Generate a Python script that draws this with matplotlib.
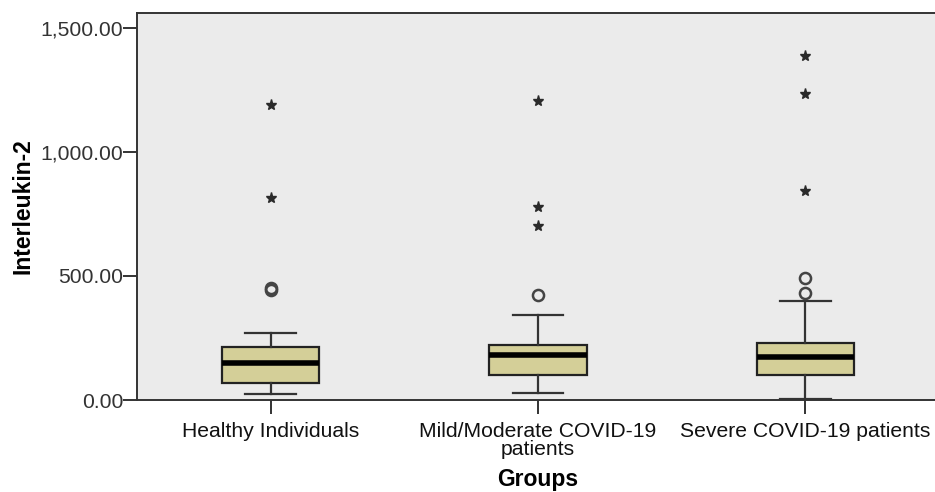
import matplotlib
matplotlib.use("Agg")
import matplotlib.pyplot as plt

plt.rcParams['font.family'] = ['Liberation Sans', 'DejaVu Sans']

groups = ["Healthy Individuals", "Mild/Moderate COVID-19\npatients", "Severe COVID-19 patients"]
q1 = [70, 101, 101]
median = [150, 181, 175]
q3 = [215, 222, 231]
whislo = [23, 29, 3]
whishi = [271, 343, 400]
outliers = [[445, 452], [423], [430, 491]]
extremes = [[816, 1190], [703, 780, 1207], [843, 1233, 1387]]

yticks = [0, 500, 1000, 1500]
ytick_labels = ["0.00", "500.00", "1,000.00", "1,500.00"]

fig = plt.figure(figsize=(9.35, 4.92), dpi=100)
ax = fig.add_axes([137/935, 92/492, 802/935, 387/492])
ax.set_facecolor("#EBEBEB")

stats = []
for i, g in enumerate(groups):
    stats.append(dict(label=g, q1=q1[i], med=median[i], q3=q3[i],
                      whislo=whislo[i], whishi=whishi[i], fliers=[]))

positions = [1, 2, 3]
ax.bxp(stats, positions=positions, widths=0.365, patch_artist=True,
       showfliers=False,
       boxprops=dict(facecolor="#D4CF98", edgecolor="#222222", linewidth=1.6),
       medianprops=dict(color="black", linewidth=4, solid_capstyle='butt'),
       whiskerprops=dict(color="#333333", linewidth=1.6),
       capprops=dict(color="#333333", linewidth=1.6),
       capwidths=0.19)

for p, vals in zip(positions, outliers):
    ax.plot([p]*len(vals), vals, linestyle='none', marker='o', markersize=8,
            markerfacecolor='none', markeredgecolor='#444444', markeredgewidth=1.8, zorder=5)
for p, vals in zip(positions, extremes):
    ax.plot([p]*len(vals), vals, linestyle='none', marker='*', markersize=8,
            color='#2a2a2a', zorder=5)

ax.set_xlim(0.5, 3.5)
ax.set_ylim(0, 1560)
ax.set_yticks(yticks)
ax.set_yticklabels(ytick_labels)
ax.set_xticks(positions)
ax.set_xticklabels(groups, linespacing=0.95)

ax.tick_params(axis='y', labelsize=15.2, length=10, width=1.4, color='#333333', labelcolor='#333333', pad=0)
ax.tick_params(axis='x', labelsize=15.2, length=10, width=1.4, color='#333333', labelcolor='#111111', pad=6)

for s in ['left', 'bottom', 'top', 'right']:
    ax.spines[s].set_color('#333333')
    ax.spines[s].set_linewidth(1.4)

ax.set_ylabel("Interleukin-2", fontsize=16.5, fontweight='bold', labelpad=4)
ax.set_xlabel("Groups", fontsize=16.5, fontweight='bold', labelpad=6)

fig.savefig("out.png", dpi=100, facecolor='white')
